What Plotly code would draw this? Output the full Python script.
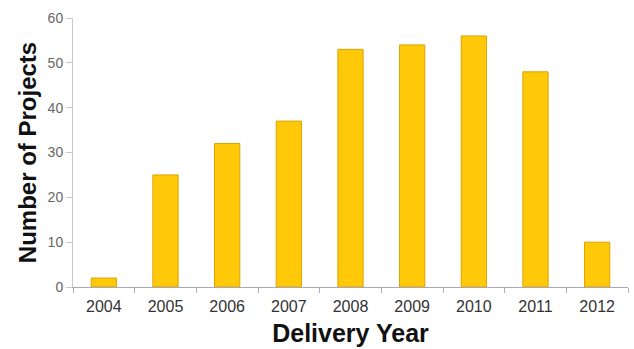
import plotly.graph_objects as go

# Projects delivered per year
years = ["2004", "2005", "2006", "2007", "2008", "2009", "2010", "2011", "2012"]
projects = [2, 25, 32, 37, 53, 54, 56, 48, 10]

y_ticks = [0, 10, 20, 30, 40, 50, 60]

fig = go.Figure(
    go.Bar(
        x=years,
        y=projects,
        marker=dict(color="#FFC808", line=dict(color="#D9A600", width=1)),
        width=0.41,
    )
)

fig.update_layout(
    width=634,
    height=349,
    margin=dict(l=73, r=6, t=18, b=62),
    paper_bgcolor="white",
    plot_bgcolor="white",
    showlegend=False,
    font=dict(family="Liberation Sans, Arial, sans-serif"),
)

fig.update_xaxes(
    type="category",
    showline=True,
    linecolor="#A8A8B8",
    linewidth=1,
    ticks="outside",
    tickson="boundaries",
    ticklen=5,
    tickcolor="#B8A8C8",
    showgrid=False,
    ticklabelstandoff=5,
    tickfont=dict(size=16, color="#333333"),
    title=dict(text="<b>Delivery Year</b>", font=dict(size=25, color="#111111"), standoff=10),
)

fig.update_yaxes(
    range=[0, 60],
    tickvals=y_ticks,
    showline=True,
    linecolor="#C8C8D0",
    linewidth=1,
    ticks="outside",
    ticklen=6,
    tickcolor="#C8C8D0",
    showgrid=False,
    zeroline=False,
    tickfont=dict(size=14, color="#666666"),
    title=dict(text="<b>Number of Projects</b>", font=dict(size=24, color="#111111"), standoff=4),
)

fig.write_html("out.html")
